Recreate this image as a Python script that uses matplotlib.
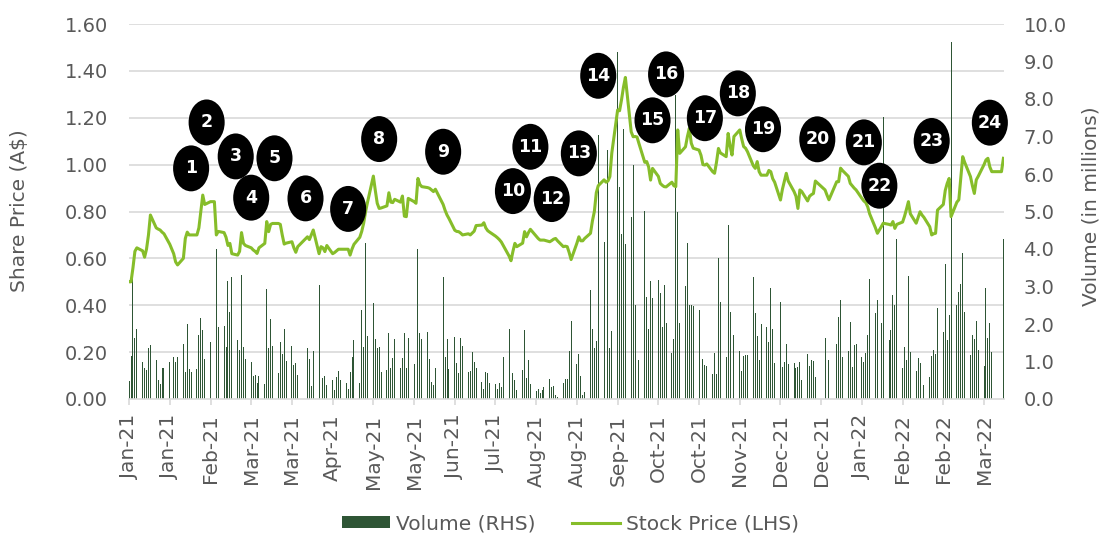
import matplotlib
matplotlib.use("Agg")
import matplotlib.pyplot as plt
import matplotlib.dates as mdates
import matplotlib.ticker as mticker
from matplotlib.patches import Ellipse
from matplotlib.transforms import blended_transform_factory
import numpy as np
import pandas as pd

# trading calendar (ASX), Jan-21 .. Mar-22
START, END = "2021-01-04", "2022-03-31"
ASX_HOLIDAYS = ["2021-01-26", "2021-04-02", "2021-04-05", "2021-06-14",
                "2021-12-27", "2021-12-28", "2022-01-03", "2022-01-26"]

# closing share price (A$), one line per trading week
PRICE = [
    0.500, 0.500, 0.560, 0.630, 0.645,
    0.632, 0.605, 0.640, 0.700, 0.785,
    0.730, 0.725, 0.721, 0.712, 0.705,
    0.660, 0.620, 0.585, 0.572,
    0.600, 0.685, 0.712, 0.700, 0.700,
    0.700, 0.730, 0.800, 0.870, 0.830,
    0.842, 0.842, 0.842, 0.700, 0.715,
    0.710, 0.690, 0.655, 0.664, 0.620,
    0.614, 0.630, 0.710, 0.664, 0.655,
    0.645, 0.636, 0.630, 0.621, 0.645,
    0.664, 0.757, 0.714, 0.745, 0.749,
    0.749, 0.745, 0.700, 0.661, 0.665,
    0.671, 0.645, 0.626, 0.650,
    0.692, 0.680, 0.700, 0.721,
    0.620, 0.650, 0.645, 0.629, 0.655,
    0.620, 0.625, 0.632, 0.639, 0.639,
    0.639, 0.639, 0.614, 0.640, 0.660,
    0.690, 0.715, 0.750, 0.800, 0.840,
    0.951, 0.890, 0.835, 0.813, 0.815,
    0.824, 0.880, 0.840, 0.838, 0.852,
    0.840, 0.866, 0.780, 0.778, 0.856,
    0.842, 0.835, 0.941, 0.915, 0.906,
    0.902, 0.899, 0.892, 0.885, 0.895,
    0.830, 0.805, 0.785, 0.770,
    0.720, 0.715, 0.714, 0.708, 0.700,
    0.705, 0.700, 0.708, 0.716, 0.740,
    0.742, 0.752, 0.730, 0.718, 0.712,
    0.695, 0.688, 0.680, 0.670, 0.655,
    0.610, 0.590, 0.630, 0.664, 0.650,
    0.665, 0.714, 0.692, 0.710, 0.724,
    0.695, 0.685, 0.678, 0.678, 0.678,
    0.671, 0.676, 0.682, 0.685, 0.675,
    0.650, 0.652, 0.650, 0.625, 0.595,
    0.665, 0.692, 0.675, 0.675, 0.685,
    0.707, 0.760, 0.800, 0.880, 0.910,
    0.935, 0.925, 0.930, 0.949, 1.050,
    1.233, 1.230, 1.276, 1.330, 1.372,
    1.140, 1.119, 1.120, 1.118, 1.090,
    1.010, 1.013, 0.990, 0.934, 0.984,
    0.950, 0.920, 0.912, 0.906, 0.905,
    0.925, 0.910, 0.906, 1.148, 1.048,
    1.076, 1.120, 1.155, 1.091, 1.070,
    1.062, 1.040, 1.000, 0.998, 1.003,
    0.970, 0.963, 1.010, 1.069, 1.050,
    1.034, 1.133, 1.080, 1.041, 1.120,
    1.148, 1.110, 1.077, 1.070, 1.055,
    0.995, 0.984, 1.013, 0.970, 0.955,
    0.955, 0.975, 0.970, 0.940, 0.925,
    0.849, 0.895, 0.930, 0.963, 0.930,
    0.885, 0.865, 0.813, 0.892, 0.885,
    0.845, 0.865, 0.872, 0.877, 0.930,
    0.892, 0.870, 0.850,
    0.927, 0.927, 0.985, 0.975,
    0.950, 0.920, 0.910, 0.900, 0.892,
    0.856, 0.845, 0.838, 0.820, 0.790,
    0.730, 0.707, 0.735, 0.750,
    0.745, 0.742, 0.757, 0.728, 0.745,
    0.755, 0.780, 0.810, 0.842, 0.790,
    0.750, 0.775, 0.799, 0.785, 0.775,
    0.735, 0.700, 0.705, 0.707, 0.806,
    0.830, 0.890, 0.920, 0.941, 0.778,
    0.840, 0.850, 0.940, 1.034, 1.010,
    0.949, 0.910, 0.877, 0.935, 0.950,
    1.000, 1.020, 1.027, 0.990, 0.970,
    0.970, 0.970, 0.970, 1.027,
]

# daily volume (millions), same layout
VOLUME = [
    0.48, 1.15, 3.26, 1.62, 1.87,
    0.98, 0.82, 0.78, 1.35, 1.44,
    1.04, 0.52, 0.40, 0.82, 0.82,
    0.98, 1.11, 1.00, 1.11,
    1.47, 0.73, 2.00, 0.80, 0.71,
    0.79, 1.70, 2.15, 1.84, 1.08,
    1.53, 0.00, 0.00, 4.00, 1.93,
    1.95, 1.39, 3.16, 2.33, 3.26,
    1.57, 1.31, 3.31, 1.39, 1.08,
    0.98, 0.62, 0.64, 0.42, 0.62,
    0.40, 2.93, 1.35, 2.13, 1.42,
    0.70, 1.53, 1.20, 1.88, 1.02,
    1.41, 0.91, 0.95, 0.64,
    1.35, 1.08, 0.35, 1.28,
    3.04, 0.98, 0.55, 0.62, 0.37,
    0.52, 0.24, 0.60, 0.76, 0.50,
    0.42, 0.26, 0.73, 1.11, 1.57,
    0.43, 2.37, 1.38, 4.15, 1.69,
    2.55, 1.59, 1.35, 1.40, 0.71,
    0.77, 1.77, 0.84, 1.10, 1.59,
    0.84, 1.10, 1.77, 0.82, 1.62,
    0.93, 0.43, 3.99, 1.77, 1.59,
    1.80, 1.06, 0.46, 0.37, 0.84,
    3.26, 1.11, 1.59, 0.80,
    1.66, 0.95, 0.70, 1.62, 1.41,
    0.73, 0.76, 1.26, 0.98, 0.82,
    0.46, 0.28, 0.73, 0.69, 0.42,
    0.40, 0.26, 0.43, 0.31, 1.11,
    1.86, 1.33, 0.70, 0.50, 0.24,
    0.77, 1.84, 0.56, 1.04, 0.40,
    0.22, 0.28, 0.17, 0.24, 0.33,
    0.53, 0.31, 0.35, 0.11, 0.05,
    0.42, 0.54, 0.53, 1.28, 2.08,
    0.93, 1.20, 0.62, 0.10, 0.18,
    2.90, 1.87, 1.37, 1.56, 7.04,
    4.20, 1.96, 6.64, 1.35, 1.82,
    9.26, 5.66, 4.41, 7.20, 4.13,
    4.86, 6.24, 2.50, 1.96, 1.04,
    5.02, 2.73, 1.87, 3.16, 2.69,
    3.17, 2.84, 1.92, 3.04, 2.02,
    1.23, 1.59, 8.11, 5.00, 2.02,
    3.01, 4.15, 2.50, 2.50, 2.47,
    2.37, 2.19, 1.08, 0.90, 0.89,
    0.66, 1.24, 0.68, 3.75, 2.59,
    1.13, 4.64, 2.33, 1.80, 1.71,
    1.29, 0.75, 1.16, 1.17, 1.17,
    3.26, 2.29, 1.68, 1.04, 1.99,
    1.92, 1.53, 2.95, 1.87, 0.95,
    2.59, 0.86, 0.99, 1.48, 0.93,
    0.95, 0.84, 0.86, 0.99, 0.50,
    1.20, 0.88, 1.04, 1.02, 0.60,
    1.64, 1.44, 1.04,
    1.48, 2.19, 2.65, 1.13,
    1.28, 2.06, 0.86, 1.44, 1.48,
    1.13, 0.99, 1.23, 1.71, 3.19,
    2.29, 2.65, 2.03, 7.53,
    1.57, 1.85, 2.77, 2.50, 4.26,
    0.83, 1.38, 1.03, 3.28, 1.26,
    0.76, 1.10, 0.95, 0.46, 0.37,
    0.60, 1.15, 1.31, 1.20, 2.42,
    1.80, 3.60, 1.57, 2.24, 9.52,
    2.50, 2.86, 3.08, 3.90, 2.33,
    1.17, 1.71, 1.59, 2.08, 1.32,
    0.88, 2.95, 1.62, 2.03, 1.26,
    0.00, 0.00, 0.00, 4.27,
]

# numbered event markers (date, height on the price axis)
EVENT_DATES = ["2021-02-05", "2021-02-13", "2021-02-28", "2021-03-08", "2021-03-20",
               "2021-04-05", "2021-04-27", "2021-05-13", "2021-06-15", "2021-07-21",
               "2021-07-30", "2021-08-10", "2021-08-24", "2021-09-03", "2021-10-01",
               "2021-10-08", "2021-10-28", "2021-11-14", "2021-11-27", "2021-12-25",
               "2022-01-18", "2022-01-26", "2022-02-22", "2022-03-24"]
EVENT_LEVELS = [0.984, 1.180, 1.035, 0.859, 1.027, 0.856, 0.811, 1.109, 1.055, 0.887,
                1.076, 0.853, 1.048, 1.379, 1.189, 1.385, 1.198, 1.304, 1.151, 1.108,
                1.095, 0.910, 1.101, 1.179]

PRICE_TICKS = np.arange(0, 1.61, 0.2)
VOLUME_TICKS = np.arange(0, 10.1, 1.0)

GREY = "#595959"
GRID = "#D9D9D9"
BAR_COLOR = "#2E5535"
LINE_COLOR = "#86BD2A"

dates = pd.bdate_range(START, END, freq="C", holidays=ASX_HOLIDAYS)

plt.rcParams["font.family"] = "DejaVu Sans"

fig = plt.figure(figsize=(11.01, 5.33), dpi=100)
ax = fig.add_axes([128.7 / 1101, 134 / 533, 875.3 / 1101, 375 / 533])
ax_p = ax.twinx()

# volume bars on the back axes, right side
ax.bar(dates, VOLUME, width=0.5, color=BAR_COLOR, linewidth=0, label="Volume (RHS)", zorder=2)
ax.set_ylim(0, 10)
ax.set_yticks(VOLUME_TICKS)
ax.yaxis.tick_right()
ax.yaxis.set_major_formatter(mticker.StrMethodFormatter("{x:.1f}"))

# price line on the front axes, left side
line, = ax_p.plot(dates, PRICE, color=LINE_COLOR, lw=2.2, solid_joinstyle="round",
                  label="Stock Price (LHS)", zorder=3)
ax_p.set_ylim(0, 1.6)
ax_p.set_yticks(PRICE_TICKS)
ax_p.yaxis.tick_left()
ax_p.yaxis.set_major_formatter(mticker.StrMethodFormatter("{x:.2f}"))

# horizontal gridlines follow the price scale but sit behind the bars
trans = blended_transform_factory(ax.transAxes, ax_p.transData)
for t in PRICE_TICKS[1:]:
    ax.plot([0, 1], [t, t], transform=trans, color=GRID, lw=1.2, zorder=0)

x0 = mdates.date2num(dates[0])
x1 = mdates.date2num(dates[-1])
ax.set_xlim(x0 - 0.2, x1 + 0.3)
ax.set_xticks(pd.date_range(START, periods=22, freq="21D"))
ax.xaxis.set_major_formatter(mdates.DateFormatter("%b-%y"))

for a in (ax, ax_p):
    for s in ("top", "left", "right"):
        a.spines[s].set_visible(False)
ax_p.spines["bottom"].set_visible(False)
ax.spines["bottom"].set_color(GRID)
ax.spines["bottom"].set_linewidth(1.2)

ax.tick_params(axis="x", length=4, width=1.2, color=GRID, pad=7, labelsize=14.5,
               labelcolor=GREY, labelrotation=90)
ax.tick_params(axis="y", length=0, pad=14, labelsize=14, labelcolor=GREY)
ax_p.tick_params(axis="y", length=0, pad=15, labelsize=14, labelcolor=GREY)

fig.text(20 / 1101, (533 - 211) / 533, "Share Price (A$)", rotation=90, ha="center",
         va="center", fontsize=14.5, color=GREY)
fig.text(1091 / 1101, (533 - 206) / 533, "Volume (in millions)", rotation=90, ha="center",
         va="center", fontsize=14.5, color=GREY)

# numbered event bubbles
for n, (d, lvl) in enumerate(zip(EVENT_DATES, EVENT_LEVELS), start=1):
    xc = mdates.date2num(pd.Timestamp(d))
    ax_p.add_patch(Ellipse((xc, lvl), width=18.6, height=0.196, facecolor="black",
                           edgecolor="none", zorder=10, clip_on=False))
    ax_p.text(xc, lvl, str(n), ha="center", va="center", color="white", fontsize=12.5,
              fontweight="bold", zorder=11, clip_on=False)

handles = [ax.containers[0], line]
leg = fig.legend(handles, [h.get_label() for h in handles], loc="center",
                 bbox_to_anchor=(570.5 / 1101, (533 - 524) / 533), ncol=2, frameon=False,
                 fontsize=14.5, handlelength=2.4, handleheight=0.55, handletextpad=0.3,
                 columnspacing=1.8, borderpad=0)
for txt in leg.get_texts():
    txt.set_color(GREY)

fig.savefig("out.png", dpi=100)
